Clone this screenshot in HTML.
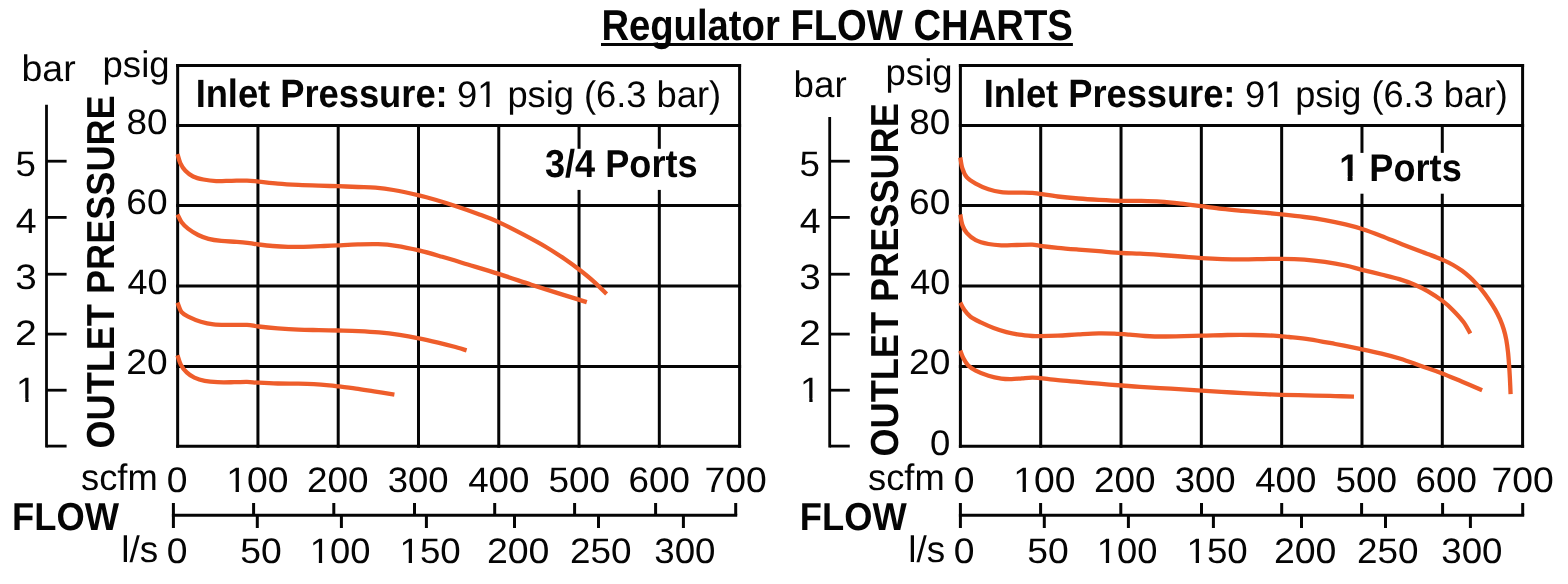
<!DOCTYPE html>
<html lang="en">
<head>
<meta charset="utf-8">
<title>Regulator FLOW CHARTS</title>
<style>
html,body{margin:0;padding:0;background:#fff;}
body{width:1568px;height:584px;overflow:hidden;font-family:"Liberation Sans",sans-serif;}
svg{display:block;}
svg{will-change:transform;}
svg text{font-family:"Liberation Sans",sans-serif;fill:#050505;filter:grayscale(1);text-rendering:geometricPrecision;}
</style>
</head>
<body>
<svg width="1568" height="584" viewBox="0 0 1568 584">
<rect x="0" y="0" width="1568" height="584" fill="#fff"/>
<text transform="matrix(0.19109,0,0,0.21667,601.42,39.80)" font-size="200" font-weight="bold">Regulator FLOW CHARTS</text>
<line x1="601.00" y1="44.50" x2="1072.90" y2="44.50" stroke="#050505" stroke-width="3.05" stroke-linecap="butt"/>
<line x1="177.65" y1="63.90" x2="177.65" y2="447.80" stroke="#050505" stroke-width="3.0" stroke-linecap="butt"/>
<line x1="257.93" y1="125.50" x2="257.93" y2="447.80" stroke="#050505" stroke-width="3.0" stroke-linecap="butt"/>
<line x1="338.21" y1="125.50" x2="338.21" y2="447.80" stroke="#050505" stroke-width="3.0" stroke-linecap="butt"/>
<line x1="418.49" y1="125.50" x2="418.49" y2="447.80" stroke="#050505" stroke-width="3.0" stroke-linecap="butt"/>
<line x1="498.76" y1="125.50" x2="498.76" y2="447.80" stroke="#050505" stroke-width="3.0" stroke-linecap="butt"/>
<line x1="579.04" y1="125.50" x2="579.04" y2="447.80" stroke="#050505" stroke-width="3.0" stroke-linecap="butt"/>
<line x1="659.32" y1="125.50" x2="659.32" y2="447.80" stroke="#050505" stroke-width="3.0" stroke-linecap="butt"/>
<line x1="739.60" y1="63.90" x2="739.60" y2="447.80" stroke="#050505" stroke-width="3.0" stroke-linecap="butt"/>
<line x1="176.15" y1="65.40" x2="741.10" y2="65.40" stroke="#050505" stroke-width="3.0" stroke-linecap="butt"/>
<line x1="176.15" y1="125.50" x2="741.10" y2="125.50" stroke="#050505" stroke-width="3.0" stroke-linecap="butt"/>
<line x1="176.15" y1="205.60" x2="741.10" y2="205.60" stroke="#050505" stroke-width="3.0" stroke-linecap="butt"/>
<line x1="176.15" y1="286.10" x2="741.10" y2="286.10" stroke="#050505" stroke-width="3.0" stroke-linecap="butt"/>
<line x1="176.15" y1="366.40" x2="741.10" y2="366.40" stroke="#050505" stroke-width="3.0" stroke-linecap="butt"/>
<line x1="176.15" y1="446.30" x2="741.10" y2="446.30" stroke="#050505" stroke-width="3.0" stroke-linecap="butt"/>
<rect x="543.00" y="148.80" width="157.00" height="41.10" fill="#fff"/>
<line x1="46.50" y1="104.80" x2="46.50" y2="447.50" stroke="#050505" stroke-width="2.8" stroke-linecap="butt"/>
<line x1="46.50" y1="161.20" x2="66.60" y2="161.20" stroke="#050505" stroke-width="2.8" stroke-linecap="butt"/>
<line x1="46.50" y1="217.40" x2="66.60" y2="217.40" stroke="#050505" stroke-width="2.8" stroke-linecap="butt"/>
<line x1="46.50" y1="274.20" x2="66.60" y2="274.20" stroke="#050505" stroke-width="2.8" stroke-linecap="butt"/>
<line x1="46.50" y1="334.10" x2="66.60" y2="334.10" stroke="#050505" stroke-width="2.8" stroke-linecap="butt"/>
<line x1="46.50" y1="390.20" x2="66.60" y2="390.20" stroke="#050505" stroke-width="2.8" stroke-linecap="butt"/>
<line x1="46.50" y1="446.10" x2="66.60" y2="446.10" stroke="#050505" stroke-width="2.8" stroke-linecap="butt"/>
<text transform="matrix(0.18316,0,0,0.17681,15.43,175.90)" font-size="200">5</text>
<text transform="matrix(0.18713,0,0,0.17681,15.85,233.00)" font-size="200">4</text>
<text transform="matrix(0.19368,0,0,0.17681,15.35,288.80)" font-size="200">3</text>
<text transform="matrix(0.19670,0,0,0.17681,14.93,345.40)" font-size="200">2</text>
<g transform="matrix(0.18367,0,0,0.17681,16.11,401.50)"><text font-size="200">1</text><rect x="10.0" y="-17.5" width="40.0" height="21.0" fill="#fff"/><rect x="68.0" y="-17.5" width="40.0" height="21.0" fill="#fff"/></g>
<text transform="matrix(0.18787,0,0,0.18414,21.46,80.80)" font-size="200">bar</text>
<text transform="matrix(0.18299,0,0,0.18483,102.52,76.70)" font-size="200">psig</text>
<text transform="matrix(0.18447,0,0,0.17681,126.54,133.50)" font-size="200">80</text>
<text transform="matrix(0.18537,0,0,0.17681,126.35,213.70)" font-size="200">60</text>
<text transform="matrix(0.18009,0,0,0.17681,127.48,294.00)" font-size="200">40</text>
<text transform="matrix(0.18537,0,0,0.17681,126.35,374.30)" font-size="200">20</text>
<text transform="matrix(0,-0.18062,0.19565,0,114.10,448.54)" font-size="200" font-weight="bold">OUTLET PRESSURE</text>
<text transform="matrix(0.18136,0,0,0.19710,195.64,107.00)" font-size="200" font-weight="bold">Inlet Pressure:</text>
<g transform="matrix(0.18132,0,0,0.18483,456.97,107.00)"><text font-size="200">91 psig (6.3 bar)</text><rect x="121.2" y="-17.5" width="40.0" height="21.0" fill="#fff"/><rect x="179.2" y="-17.5" width="40.0" height="21.0" fill="#fff"/></g>
<text transform="matrix(0.18077,0,0,0.19493,544.90,177.00)" font-size="200" font-weight="bold">3/4 Ports</text>
<text transform="matrix(0.18144,0,0,0.18483,81.01,489.80)" font-size="200">scfm</text>
<text transform="matrix(0.18646,0,0,0.17681,166.71,491.90)" font-size="200">0</text>
<g transform="matrix(0.18632,0,0,0.17681,226.26,491.90)"><text font-size="200">100</text><rect x="10.0" y="-17.5" width="40.0" height="21.0" fill="#fff"/><rect x="68.0" y="-17.5" width="40.0" height="21.0" fill="#fff"/></g>
<text transform="matrix(0.18465,0,0,0.17681,306.90,491.90)" font-size="200">200</text>
<text transform="matrix(0.18239,0,0,0.17681,387.64,491.90)" font-size="200">300</text>
<text transform="matrix(0.18354,0,0,0.17681,468.17,491.90)" font-size="200">400</text>
<text transform="matrix(0.18428,0,0,0.17681,548.53,491.90)" font-size="200">500</text>
<text transform="matrix(0.18354,0,0,0.17681,628.56,491.90)" font-size="200">600</text>
<text transform="matrix(0.18655,0,0,0.17681,704.38,491.90)" font-size="200">700</text>
<text transform="matrix(0.18194,0,0,0.19420,11.93,529.80)" font-size="200" font-weight="bold">FLOW</text>
<text transform="matrix(0.18444,0,0,0.18483,121.20,562.00)" font-size="200">l/s</text>
<text transform="matrix(0.18646,0,0,0.17681,166.71,562.80)" font-size="200">0</text>
<text transform="matrix(0.18647,0,0,0.17681,240.31,562.80)" font-size="200">50</text>
<g transform="matrix(0.18208,0,0,0.17681,309.74,562.80)"><text font-size="200">100</text><rect x="10.0" y="-17.5" width="40.0" height="21.0" fill="#fff"/><rect x="68.0" y="-17.5" width="40.0" height="21.0" fill="#fff"/></g>
<g transform="matrix(0.18339,0,0,0.17681,399.52,562.80)"><text font-size="200">150</text><rect x="10.0" y="-17.5" width="40.0" height="21.0" fill="#fff"/><rect x="68.0" y="-17.5" width="40.0" height="21.0" fill="#fff"/></g>
<text transform="matrix(0.18750,0,0,0.17681,486.88,562.80)" font-size="200">200</text>
<text transform="matrix(0.18481,0,0,0.17681,569.95,562.80)" font-size="200">250</text>
<text transform="matrix(0.18365,0,0,0.17681,654.23,562.80)" font-size="200">300</text>
<line x1="171.90" y1="515.30" x2="737.20" y2="515.30" stroke="#050505" stroke-width="3.0" stroke-linecap="butt"/>
<line x1="173.40" y1="503.00" x2="173.40" y2="528.00" stroke="#050505" stroke-width="3.0" stroke-linecap="butt"/>
<line x1="253.60" y1="503.00" x2="253.60" y2="515.30" stroke="#050505" stroke-width="3.0" stroke-linecap="butt"/>
<line x1="333.80" y1="503.00" x2="333.80" y2="515.30" stroke="#050505" stroke-width="3.0" stroke-linecap="butt"/>
<line x1="414.50" y1="503.00" x2="414.50" y2="515.30" stroke="#050505" stroke-width="3.0" stroke-linecap="butt"/>
<line x1="494.70" y1="503.00" x2="494.70" y2="515.30" stroke="#050505" stroke-width="3.0" stroke-linecap="butt"/>
<line x1="574.60" y1="503.00" x2="574.60" y2="515.30" stroke="#050505" stroke-width="3.0" stroke-linecap="butt"/>
<line x1="655.60" y1="503.00" x2="655.60" y2="515.30" stroke="#050505" stroke-width="3.0" stroke-linecap="butt"/>
<line x1="735.70" y1="503.00" x2="735.70" y2="515.30" stroke="#050505" stroke-width="3.0" stroke-linecap="butt"/>
<line x1="257.30" y1="515.30" x2="257.30" y2="528.00" stroke="#050505" stroke-width="3.0" stroke-linecap="butt"/>
<line x1="341.40" y1="515.30" x2="341.40" y2="528.00" stroke="#050505" stroke-width="3.0" stroke-linecap="butt"/>
<line x1="426.40" y1="515.30" x2="426.40" y2="528.00" stroke="#050505" stroke-width="3.0" stroke-linecap="butt"/>
<line x1="514.50" y1="515.30" x2="514.50" y2="528.00" stroke="#050505" stroke-width="3.0" stroke-linecap="butt"/>
<line x1="598.50" y1="515.30" x2="598.50" y2="528.00" stroke="#050505" stroke-width="3.0" stroke-linecap="butt"/>
<line x1="683.40" y1="515.30" x2="683.40" y2="528.00" stroke="#050505" stroke-width="3.0" stroke-linecap="butt"/>
<path d="M177.50,154.10 C177.97,155.60 178.98,160.32 180.30,163.10 C181.62,165.88 183.27,168.57 185.40,170.80 C187.53,173.03 190.10,175.05 193.10,176.50 C196.10,177.95 199.55,178.73 203.40,179.50 C207.25,180.27 211.50,180.88 216.20,181.10 C220.90,181.32 226.47,180.88 231.60,180.80 C236.73,180.72 242.50,180.47 247.00,180.60 C251.50,180.73 253.47,181.10 258.60,181.60 C263.73,182.10 271.17,183.05 277.80,183.60 C284.43,184.15 291.55,184.55 298.40,184.90 C305.25,185.25 312.27,185.48 318.90,185.70 C325.53,185.92 331.68,185.98 338.20,186.20 C344.72,186.42 351.80,186.75 358.00,187.00 C364.20,187.25 369.50,187.20 375.40,187.70 C381.30,188.20 386.13,188.72 393.40,190.00 C400.67,191.28 411.73,193.68 419.00,195.40 C426.27,197.12 430.57,198.42 437.00,200.30 C443.43,202.18 450.75,204.43 457.60,206.70 C464.45,208.97 471.27,211.33 478.10,213.90 C484.93,216.47 491.02,218.63 498.60,222.10 C506.18,225.57 515.57,230.47 523.60,234.70 C531.63,238.93 539.95,243.45 546.80,247.50 C553.65,251.55 559.37,255.37 564.70,259.00 C570.03,262.63 574.08,265.65 578.80,269.30 C583.52,272.95 588.37,276.78 593.00,280.90 C597.63,285.02 604.33,291.82 606.60,294.00" fill="none" stroke="#ee5d2b" stroke-width="4.3" stroke-linecap="butt" stroke-linejoin="round"/>
<path d="M177.50,214.50 C178.18,215.78 179.85,219.85 181.60,222.20 C183.35,224.55 185.23,226.47 188.00,228.60 C190.77,230.73 194.78,233.30 198.20,235.00 C201.62,236.70 204.65,237.82 208.50,238.80 C212.35,239.78 216.58,240.38 221.30,240.90 C226.02,241.42 232.08,241.52 236.80,241.90 C241.52,242.28 245.97,242.77 249.60,243.20 C253.23,243.63 254.75,244.03 258.60,244.50 C262.45,244.97 267.78,245.62 272.70,246.00 C277.62,246.38 282.97,246.67 288.10,246.80 C293.23,246.93 297.52,246.93 303.50,246.80 C309.48,246.67 318.22,246.25 324.00,246.00 C329.78,245.75 332.53,245.57 338.20,245.30 C343.87,245.03 351.37,244.58 358.00,244.40 C364.63,244.22 371.67,243.97 378.00,244.20 C384.33,244.43 389.17,244.77 396.00,245.80 C402.83,246.83 411.30,248.57 419.00,250.40 C426.70,252.23 434.07,254.45 442.20,256.80 C450.33,259.15 458.40,261.65 467.80,264.50 C477.20,267.35 488.02,270.53 498.60,273.90 C509.18,277.27 521.57,281.53 531.30,284.70 C541.03,287.87 549.08,290.42 557.00,292.90 C564.92,295.38 573.83,298.06 578.80,299.60 C583.77,301.14 585.47,301.72 586.80,302.15" fill="none" stroke="#ee5d2b" stroke-width="4.3" stroke-linecap="butt" stroke-linejoin="round"/>
<path d="M177.50,302.60 C178.18,304.18 179.63,309.67 181.60,312.10 C183.57,314.53 186.10,315.58 189.30,317.20 C192.50,318.82 196.75,320.60 200.80,321.80 C204.85,323.00 208.90,323.88 213.60,324.40 C218.30,324.92 223.43,324.82 229.00,324.90 C234.57,324.98 242.07,324.63 247.00,324.90 C251.93,325.17 253.47,325.93 258.60,326.50 C263.73,327.07 271.17,327.78 277.80,328.30 C284.43,328.82 291.55,329.30 298.40,329.60 C305.25,329.90 312.27,329.95 318.90,330.10 C325.53,330.25 331.60,330.33 338.20,330.50 C344.80,330.67 351.70,330.78 358.50,331.10 C365.30,331.42 372.15,331.77 379.00,332.40 C385.85,333.03 392.97,333.92 399.60,334.90 C406.23,335.88 412.38,337.02 418.80,338.30 C425.22,339.58 432.32,341.23 438.10,342.60 C443.88,343.97 448.75,345.21 453.50,346.50 C458.25,347.79 464.42,349.71 466.60,350.35" fill="none" stroke="#ee5d2b" stroke-width="4.3" stroke-linecap="butt" stroke-linejoin="round"/>
<path d="M177.50,355.20 C178.05,356.78 179.27,361.83 180.80,364.70 C182.33,367.57 184.43,370.25 186.70,372.40 C188.97,374.55 191.40,376.18 194.40,377.60 C197.40,379.02 200.85,380.13 204.70,380.90 C208.55,381.67 212.58,381.98 217.50,382.20 C222.42,382.42 229.28,382.25 234.20,382.20 C239.12,382.15 242.93,381.82 247.00,381.90 C251.07,381.98 253.47,382.43 258.60,382.70 C263.73,382.97 271.17,383.33 277.80,383.50 C284.43,383.67 292.40,383.58 298.40,383.70 C304.40,383.82 308.67,383.93 313.80,384.20 C318.93,384.47 325.13,384.95 329.20,385.30 C333.27,385.65 333.73,385.75 338.20,386.30 C342.67,386.85 350.05,387.75 356.00,388.60 C361.95,389.45 367.50,390.40 373.90,391.40 C380.30,392.40 390.98,394.07 394.40,394.60" fill="none" stroke="#ee5d2b" stroke-width="4.3" stroke-linecap="butt" stroke-linejoin="round"/>
<line x1="960.40" y1="63.90" x2="960.40" y2="447.80" stroke="#050505" stroke-width="3.0" stroke-linecap="butt"/>
<line x1="1040.71" y1="125.50" x2="1040.71" y2="447.80" stroke="#050505" stroke-width="3.0" stroke-linecap="butt"/>
<line x1="1121.03" y1="125.50" x2="1121.03" y2="447.80" stroke="#050505" stroke-width="3.0" stroke-linecap="butt"/>
<line x1="1201.34" y1="125.50" x2="1201.34" y2="447.80" stroke="#050505" stroke-width="3.0" stroke-linecap="butt"/>
<line x1="1281.66" y1="125.50" x2="1281.66" y2="447.80" stroke="#050505" stroke-width="3.0" stroke-linecap="butt"/>
<line x1="1361.97" y1="125.50" x2="1361.97" y2="447.80" stroke="#050505" stroke-width="3.0" stroke-linecap="butt"/>
<line x1="1442.29" y1="125.50" x2="1442.29" y2="447.80" stroke="#050505" stroke-width="3.0" stroke-linecap="butt"/>
<line x1="1522.60" y1="63.90" x2="1522.60" y2="447.80" stroke="#050505" stroke-width="3.0" stroke-linecap="butt"/>
<line x1="958.90" y1="65.40" x2="1524.10" y2="65.40" stroke="#050505" stroke-width="3.0" stroke-linecap="butt"/>
<line x1="958.90" y1="125.50" x2="1524.10" y2="125.50" stroke="#050505" stroke-width="3.0" stroke-linecap="butt"/>
<line x1="958.90" y1="205.60" x2="1524.10" y2="205.60" stroke="#050505" stroke-width="3.0" stroke-linecap="butt"/>
<line x1="958.90" y1="286.10" x2="1524.10" y2="286.10" stroke="#050505" stroke-width="3.0" stroke-linecap="butt"/>
<line x1="958.90" y1="366.40" x2="1524.10" y2="366.40" stroke="#050505" stroke-width="3.0" stroke-linecap="butt"/>
<line x1="958.90" y1="446.30" x2="1524.10" y2="446.30" stroke="#050505" stroke-width="3.0" stroke-linecap="butt"/>
<rect x="1338.00" y="152.90" width="126.00" height="40.80" fill="#fff"/>
<line x1="829.70" y1="117.00" x2="829.70" y2="447.50" stroke="#050505" stroke-width="2.8" stroke-linecap="butt"/>
<line x1="829.70" y1="161.20" x2="849.75" y2="161.20" stroke="#050505" stroke-width="2.8" stroke-linecap="butt"/>
<line x1="829.70" y1="217.40" x2="849.75" y2="217.40" stroke="#050505" stroke-width="2.8" stroke-linecap="butt"/>
<line x1="829.70" y1="274.20" x2="849.75" y2="274.20" stroke="#050505" stroke-width="2.8" stroke-linecap="butt"/>
<line x1="829.70" y1="334.10" x2="849.75" y2="334.10" stroke="#050505" stroke-width="2.8" stroke-linecap="butt"/>
<line x1="829.70" y1="390.20" x2="849.75" y2="390.20" stroke="#050505" stroke-width="2.8" stroke-linecap="butt"/>
<line x1="829.70" y1="446.10" x2="849.75" y2="446.10" stroke="#050505" stroke-width="2.8" stroke-linecap="butt"/>
<text transform="matrix(0.18316,0,0,0.17681,799.43,175.90)" font-size="200">5</text>
<text transform="matrix(0.18713,0,0,0.17681,799.85,233.00)" font-size="200">4</text>
<text transform="matrix(0.19368,0,0,0.17681,799.35,288.80)" font-size="200">3</text>
<text transform="matrix(0.19670,0,0,0.17681,798.93,345.40)" font-size="200">2</text>
<g transform="matrix(0.18367,0,0,0.17681,800.11,401.50)"><text font-size="200">1</text><rect x="10.0" y="-17.5" width="40.0" height="21.0" fill="#fff"/><rect x="68.0" y="-17.5" width="40.0" height="21.0" fill="#fff"/></g>
<text transform="matrix(0.18382,0,0,0.18483,793.51,96.70)" font-size="200">bar</text>
<text transform="matrix(0.18299,0,0,0.18483,885.52,84.70)" font-size="200">psig</text>
<text transform="matrix(0.18447,0,0,0.17681,909.24,133.50)" font-size="200">80</text>
<text transform="matrix(0.18537,0,0,0.17681,909.05,213.70)" font-size="200">60</text>
<text transform="matrix(0.18009,0,0,0.17681,910.18,294.00)" font-size="200">40</text>
<text transform="matrix(0.18537,0,0,0.17681,909.05,374.30)" font-size="200">20</text>
<text transform="matrix(0.18229,0,0,0.17681,929.94,454.70)" font-size="200">0</text>
<text transform="matrix(0,-0.18067,0.19565,0,897.90,456.55)" font-size="200" font-weight="bold">OUTLET PRESSURE</text>
<text transform="matrix(0.18121,0,0,0.19710,983.64,107.00)" font-size="200" font-weight="bold">Inlet Pressure:</text>
<g transform="matrix(0.18049,0,0,0.18483,1244.98,107.00)"><text font-size="200">91 psig (6.3 bar)</text><rect x="121.2" y="-17.5" width="40.0" height="21.0" fill="#fff"/><rect x="179.2" y="-17.5" width="40.0" height="21.0" fill="#fff"/></g>
<g transform="matrix(0.18079,0,0,0.19312,1339.17,180.75)"><text font-size="200" font-weight="bold">1 Ports</text><rect x="7.0" y="-23.5" width="40.0" height="27.0" fill="#fff"/><rect x="74.0" y="-23.5" width="38.0" height="27.0" fill="#fff"/></g>
<text transform="matrix(0.18144,0,0,0.18483,868.01,489.80)" font-size="200">scfm</text>
<text transform="matrix(0.18646,0,0,0.17681,953.71,491.90)" font-size="200">0</text>
<g transform="matrix(0.18632,0,0,0.17681,1013.26,491.90)"><text font-size="200">100</text><rect x="10.0" y="-17.5" width="40.0" height="21.0" fill="#fff"/><rect x="68.0" y="-17.5" width="40.0" height="21.0" fill="#fff"/></g>
<text transform="matrix(0.18465,0,0,0.17681,1093.90,491.90)" font-size="200">200</text>
<text transform="matrix(0.18239,0,0,0.17681,1174.64,491.90)" font-size="200">300</text>
<text transform="matrix(0.18354,0,0,0.17681,1255.17,491.90)" font-size="200">400</text>
<text transform="matrix(0.18428,0,0,0.17681,1335.53,491.90)" font-size="200">500</text>
<text transform="matrix(0.18354,0,0,0.17681,1415.56,491.90)" font-size="200">600</text>
<text transform="matrix(0.18655,0,0,0.17681,1491.38,491.90)" font-size="200">700</text>
<text transform="matrix(0.18194,0,0,0.19420,799.83,529.80)" font-size="200" font-weight="bold">FLOW</text>
<text transform="matrix(0.18444,0,0,0.18483,908.20,562.00)" font-size="200">l/s</text>
<text transform="matrix(0.18646,0,0,0.17681,953.71,562.80)" font-size="200">0</text>
<text transform="matrix(0.18647,0,0,0.17681,1027.31,562.80)" font-size="200">50</text>
<g transform="matrix(0.18208,0,0,0.17681,1096.74,562.80)"><text font-size="200">100</text><rect x="10.0" y="-17.5" width="40.0" height="21.0" fill="#fff"/><rect x="68.0" y="-17.5" width="40.0" height="21.0" fill="#fff"/></g>
<g transform="matrix(0.18339,0,0,0.17681,1186.52,562.80)"><text font-size="200">150</text><rect x="10.0" y="-17.5" width="40.0" height="21.0" fill="#fff"/><rect x="68.0" y="-17.5" width="40.0" height="21.0" fill="#fff"/></g>
<text transform="matrix(0.18750,0,0,0.17681,1273.88,562.80)" font-size="200">200</text>
<text transform="matrix(0.18481,0,0,0.17681,1356.95,562.80)" font-size="200">250</text>
<text transform="matrix(0.18365,0,0,0.17681,1441.23,562.80)" font-size="200">300</text>
<line x1="958.90" y1="515.30" x2="1524.20" y2="515.30" stroke="#050505" stroke-width="3.0" stroke-linecap="butt"/>
<line x1="960.40" y1="503.00" x2="960.40" y2="528.00" stroke="#050505" stroke-width="3.0" stroke-linecap="butt"/>
<line x1="1040.60" y1="503.00" x2="1040.60" y2="515.30" stroke="#050505" stroke-width="3.0" stroke-linecap="butt"/>
<line x1="1120.80" y1="503.00" x2="1120.80" y2="515.30" stroke="#050505" stroke-width="3.0" stroke-linecap="butt"/>
<line x1="1201.50" y1="503.00" x2="1201.50" y2="515.30" stroke="#050505" stroke-width="3.0" stroke-linecap="butt"/>
<line x1="1281.70" y1="503.00" x2="1281.70" y2="515.30" stroke="#050505" stroke-width="3.0" stroke-linecap="butt"/>
<line x1="1361.60" y1="503.00" x2="1361.60" y2="515.30" stroke="#050505" stroke-width="3.0" stroke-linecap="butt"/>
<line x1="1442.60" y1="503.00" x2="1442.60" y2="515.30" stroke="#050505" stroke-width="3.0" stroke-linecap="butt"/>
<line x1="1522.70" y1="503.00" x2="1522.70" y2="515.30" stroke="#050505" stroke-width="3.0" stroke-linecap="butt"/>
<line x1="1044.30" y1="515.30" x2="1044.30" y2="528.00" stroke="#050505" stroke-width="3.0" stroke-linecap="butt"/>
<line x1="1128.40" y1="515.30" x2="1128.40" y2="528.00" stroke="#050505" stroke-width="3.0" stroke-linecap="butt"/>
<line x1="1213.40" y1="515.30" x2="1213.40" y2="528.00" stroke="#050505" stroke-width="3.0" stroke-linecap="butt"/>
<line x1="1301.50" y1="515.30" x2="1301.50" y2="528.00" stroke="#050505" stroke-width="3.0" stroke-linecap="butt"/>
<line x1="1385.50" y1="515.30" x2="1385.50" y2="528.00" stroke="#050505" stroke-width="3.0" stroke-linecap="butt"/>
<line x1="1470.40" y1="515.30" x2="1470.40" y2="528.00" stroke="#050505" stroke-width="3.0" stroke-linecap="butt"/>
<path d="M960.30,157.50 C960.63,159.28 961.23,164.92 962.30,168.20 C963.37,171.48 964.47,174.63 966.70,177.20 C968.93,179.77 972.07,181.58 975.70,183.60 C979.33,185.62 984.23,187.88 988.50,189.30 C992.77,190.72 996.58,191.55 1001.30,192.10 C1006.02,192.65 1011.65,192.47 1016.80,192.60 C1021.95,192.73 1028.35,192.68 1032.20,192.90 C1036.05,193.12 1035.63,193.30 1039.90,193.90 C1044.17,194.50 1051.38,195.73 1057.80,196.50 C1064.22,197.27 1071.55,197.95 1078.40,198.50 C1085.25,199.05 1091.63,199.42 1098.90,199.80 C1106.17,200.18 1115.15,200.62 1122.00,200.80 C1128.85,200.98 1133.58,200.77 1140.00,200.90 C1146.42,201.03 1153.65,201.15 1160.50,201.60 C1167.35,202.05 1174.25,202.83 1181.10,203.60 C1187.95,204.37 1194.75,205.33 1201.60,206.20 C1208.45,207.07 1215.35,208.03 1222.20,208.80 C1229.05,209.57 1235.87,210.17 1242.70,210.80 C1249.53,211.43 1256.70,212.00 1263.20,212.60 C1269.70,213.20 1274.85,213.67 1281.70,214.40 C1288.55,215.13 1297.10,216.05 1304.30,217.00 C1311.50,217.95 1318.05,218.87 1324.90,220.10 C1331.75,221.33 1339.20,222.92 1345.40,224.40 C1351.60,225.88 1356.12,227.08 1362.10,229.00 C1368.08,230.92 1374.67,233.37 1381.30,235.90 C1387.93,238.43 1395.05,241.50 1401.90,244.20 C1408.75,246.90 1417.72,250.33 1422.40,252.10 C1427.08,253.87 1426.60,253.50 1430.00,254.80 C1433.40,256.10 1438.95,258.20 1442.80,259.90 C1446.65,261.60 1449.88,263.18 1453.10,265.00 C1456.32,266.82 1459.32,268.77 1462.10,270.80 C1464.88,272.83 1467.45,275.07 1469.80,277.20 C1472.15,279.33 1474.25,281.52 1476.20,283.60 C1478.15,285.68 1479.43,287.10 1481.50,289.70 C1483.57,292.30 1486.32,295.88 1488.60,299.20 C1490.88,302.52 1493.30,306.27 1495.20,309.60 C1497.10,312.93 1498.57,315.88 1500.00,319.20 C1501.43,322.52 1502.75,326.05 1503.80,329.50 C1504.85,332.95 1505.60,336.13 1506.30,339.90 C1507.00,343.67 1507.53,347.87 1508.00,352.10 C1508.47,356.33 1508.78,360.92 1509.10,365.30 C1509.42,369.68 1509.65,373.58 1509.90,378.40 C1510.15,383.22 1510.48,391.57 1510.60,394.20" fill="none" stroke="#ee5d2b" stroke-width="4.3" stroke-linecap="butt" stroke-linejoin="round"/>
<path d="M960.30,214.50 C960.63,216.20 961.23,221.63 962.30,224.70 C963.37,227.77 964.47,230.33 966.70,232.90 C968.93,235.47 972.07,238.25 975.70,240.10 C979.33,241.95 984.23,243.13 988.50,244.00 C992.77,244.87 996.58,245.13 1001.30,245.30 C1006.02,245.47 1011.65,245.10 1016.80,245.00 C1021.95,244.90 1028.35,244.57 1032.20,244.70 C1036.05,244.83 1035.63,245.28 1039.90,245.80 C1044.17,246.32 1051.38,247.17 1057.80,247.80 C1064.22,248.43 1071.55,249.03 1078.40,249.60 C1085.25,250.17 1091.63,250.63 1098.90,251.20 C1106.17,251.77 1115.15,252.58 1122.00,253.00 C1128.85,253.42 1133.58,253.37 1140.00,253.70 C1146.42,254.03 1153.65,254.53 1160.50,255.00 C1167.35,255.47 1174.25,255.98 1181.10,256.50 C1187.95,257.02 1194.75,257.67 1201.60,258.10 C1208.45,258.53 1215.35,258.88 1222.20,259.10 C1229.05,259.32 1235.87,259.40 1242.70,259.40 C1249.53,259.40 1256.70,259.20 1263.20,259.10 C1269.70,259.00 1274.85,258.72 1281.70,258.80 C1288.55,258.88 1297.10,259.08 1304.30,259.60 C1311.50,260.12 1318.05,260.92 1324.90,261.90 C1331.75,262.88 1339.20,264.18 1345.40,265.50 C1351.60,266.82 1356.12,268.30 1362.10,269.80 C1368.08,271.30 1375.10,272.95 1381.30,274.50 C1387.50,276.05 1393.73,277.40 1399.30,279.10 C1404.87,280.80 1409.98,282.70 1414.70,284.70 C1419.42,286.70 1422.97,288.40 1427.60,291.10 C1432.23,293.80 1438.23,297.68 1442.50,300.90 C1446.77,304.12 1449.70,306.88 1453.20,310.40 C1456.70,313.92 1460.65,318.15 1463.50,322.00 C1466.35,325.85 1469.17,331.58 1470.30,333.50" fill="none" stroke="#ee5d2b" stroke-width="4.3" stroke-linecap="butt" stroke-linejoin="round"/>
<path d="M960.30,302.60 C960.93,303.75 962.40,307.15 964.10,309.50 C965.80,311.85 967.72,314.55 970.50,316.70 C973.28,318.85 976.95,320.52 980.80,322.40 C984.65,324.28 989.32,326.38 993.60,328.00 C997.88,329.62 1002.22,330.98 1006.50,332.10 C1010.78,333.22 1015.02,334.05 1019.30,334.70 C1023.58,335.35 1028.77,335.75 1032.20,336.00 C1035.63,336.25 1035.63,336.25 1039.90,336.20 C1044.17,336.15 1051.38,336.00 1057.80,335.70 C1064.22,335.40 1071.55,334.78 1078.40,334.40 C1085.25,334.02 1092.92,333.52 1098.90,333.40 C1104.88,333.28 1109.17,333.48 1114.30,333.70 C1119.43,333.92 1124.58,334.32 1129.70,334.70 C1134.82,335.08 1139.00,335.70 1145.00,336.00 C1151.00,336.30 1156.25,336.55 1165.70,336.50 C1175.15,336.45 1191.42,335.95 1201.70,335.70 C1211.98,335.45 1218.85,335.12 1227.40,335.00 C1235.95,334.88 1245.30,334.88 1253.00,335.00 C1260.70,335.12 1267.60,335.37 1273.60,335.70 C1279.60,336.03 1283.00,336.40 1289.00,337.00 C1295.00,337.60 1301.88,338.13 1309.60,339.30 C1317.32,340.47 1326.73,342.37 1335.30,344.00 C1343.87,345.63 1353.30,347.50 1361.00,349.10 C1368.70,350.70 1374.92,351.98 1381.50,353.60 C1388.08,355.22 1393.90,356.73 1400.50,358.80 C1407.10,360.87 1414.25,363.60 1421.10,366.00 C1427.95,368.40 1434.75,370.57 1441.60,373.20 C1448.45,375.83 1455.45,378.97 1462.20,381.80 C1468.95,384.63 1478.78,388.80 1482.10,390.20" fill="none" stroke="#ee5d2b" stroke-width="4.3" stroke-linecap="butt" stroke-linejoin="round"/>
<path d="M960.30,350.60 C960.82,351.88 962.12,355.87 963.40,358.30 C964.68,360.73 965.95,363.15 968.00,365.20 C970.05,367.25 972.28,368.83 975.70,370.60 C979.12,372.37 984.23,374.47 988.50,375.80 C992.77,377.13 997.45,378.05 1001.30,378.60 C1005.15,379.15 1008.17,379.15 1011.60,379.10 C1015.03,379.05 1018.47,378.55 1021.90,378.30 C1025.33,378.05 1029.20,377.63 1032.20,377.60 C1035.20,377.57 1035.63,377.68 1039.90,378.10 C1044.17,378.52 1051.38,379.47 1057.80,380.10 C1064.22,380.73 1071.55,381.30 1078.40,381.90 C1085.25,382.50 1091.63,383.10 1098.90,383.70 C1106.17,384.30 1115.15,384.97 1122.00,385.50 C1128.85,386.03 1131.87,386.37 1140.00,386.90 C1148.13,387.43 1160.52,388.07 1170.80,388.70 C1181.08,389.33 1191.42,390.07 1201.70,390.70 C1211.98,391.33 1222.23,391.93 1232.50,392.50 C1242.77,393.07 1255.17,393.72 1263.30,394.10 C1271.43,394.48 1272.73,394.55 1281.30,394.80 C1289.87,395.05 1305.70,395.38 1314.70,395.60 C1323.70,395.82 1328.75,395.93 1335.30,396.10 C1341.85,396.27 1350.88,396.52 1354.00,396.60" fill="none" stroke="#ee5d2b" stroke-width="4.3" stroke-linecap="butt" stroke-linejoin="round"/>
</svg>
</body>
</html>
